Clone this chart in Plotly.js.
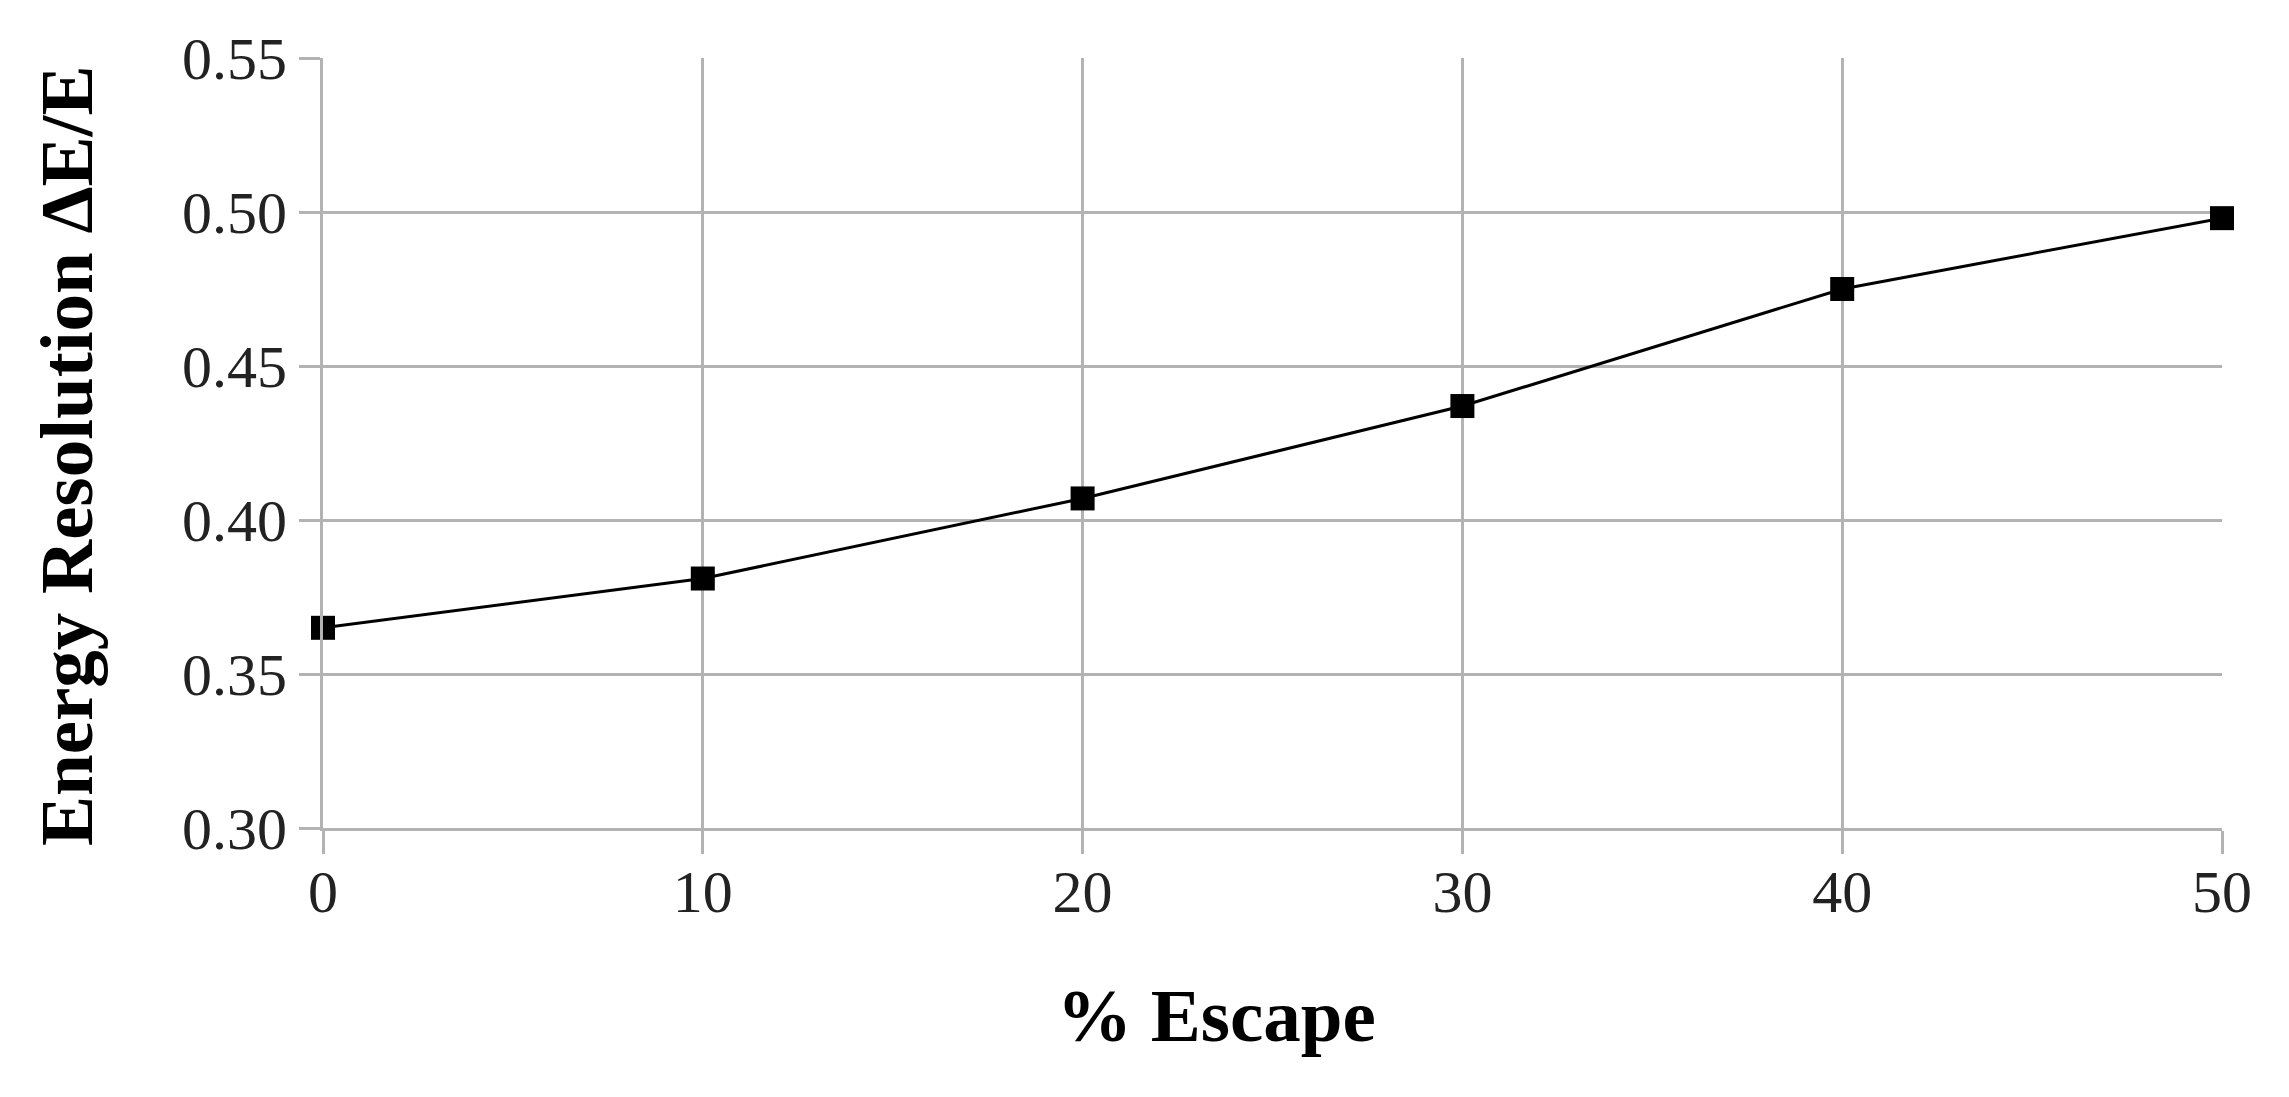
<!DOCTYPE html>
<html>
<head>
<meta charset="utf-8">
<script src="https://cdn.plot.ly/plotly-3.0.1.min.js"></script>
<style>html,body{margin:0;padding:0;background:#fff;}#chart{width:2289px;height:1097px;}</style>
</head>
<body>
<div id="chart"></div>
<script>
const escapePct = [0, 10, 20, 30, 40, 50];
const energyResolution = [0.365, 0.381, 0.407, 0.437, 0.475, 0.498];
const xTickVals = [0, 10, 20, 30, 40, 50];
const yTickVals = [0.30, 0.35, 0.40, 0.45, 0.50, 0.55];
const yTickText = ["0.30", "0.35", "0.40", "0.45", "0.50", "0.55"];
const xTitle = "% Escape";
const yTitle = "Energy Resolution ΔE/E";

const trace = {
  x: escapePct,
  y: energyResolution,
  type: "scatter",
  mode: "lines+markers",
  line: {color: "#000000", width: 3},
  marker: {symbol: "square", size: 24, color: "#000000", line: {width: 0}},
  showlegend: false,
  cliponaxis: false
};

const gridColor = "#b3b3b3";
const tickFont = {family: "Liberation Serif, serif", size: 60, color: "#222222"};
const titleFont = {family: "Liberation Serif, serif", size: 75, color: "#000000"};

const W = 2289, H = 1097;
const mL = 323, mR = 67, mT = 58, mB = 269;
const plotW = W - mL - mR, plotH = H - mT - mB;
// pixel -> paper helpers for title placement
const px2x = p => (p - mL) / plotW;
const px2y = p => (H - mB - p) / plotH;

const layout = {
  width: W,
  height: H,
  paper_bgcolor: "#ffffff",
  plot_bgcolor: "#ffffff",
  margin: {l: mL, r: mR, t: mT, b: mB, pad: 0},
  xaxis: {
    range: [0, 50],
    tickvals: xTickVals,
    ticktext: xTickVals.map(String),
    showgrid: true,
    gridcolor: gridColor,
    gridwidth: 3,
    zeroline: false,
    showline: true,
    linecolor: gridColor,
    linewidth: 3,
    ticks: "outside",
    ticklen: 23,
    tickwidth: 3,
    tickcolor: gridColor,
    tickfont: tickFont,
    ticklabelstandoff: -14,
    automargin: false
  },
  yaxis: {
    range: [0.30, 0.55],
    tickvals: yTickVals,
    ticktext: yTickText,
    showgrid: true,
    gridcolor: gridColor,
    gridwidth: 3,
    zeroline: false,
    showline: true,
    linecolor: gridColor,
    linewidth: 3,
    ticks: "outside",
    ticklen: 21,
    tickwidth: 3,
    tickcolor: gridColor,
    tickfont: tickFont,
    automargin: false
  },
  annotations: [
    {
      text: "<b>" + xTitle + "</b>",
      xref: "paper", yref: "paper",
      x: px2x(1216), y: px2y(1015),
      xanchor: "center", yanchor: "middle",
      showarrow: false,
      font: titleFont
    },
    {
      text: "<b>" + yTitle + "</b>",
      xref: "paper", yref: "paper",
      x: px2x(66), y: px2y(456),
      xanchor: "center", yanchor: "middle",
      textangle: -90,
      showarrow: false,
      font: titleFont
    }
  ]
};

Plotly.newPlot("chart", [trace], layout, {staticPlot: true, displayModeBar: false});
</script>
</body>
</html>
